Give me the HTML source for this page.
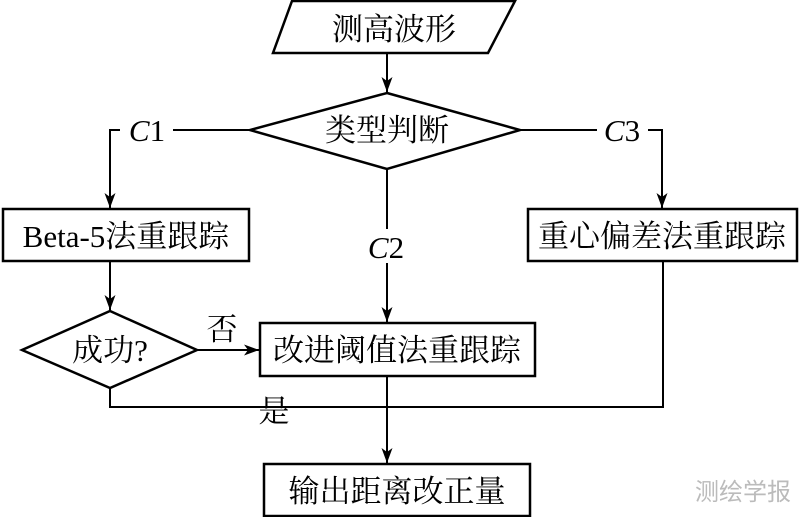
<!DOCTYPE html>
<html><head><meta charset="utf-8"><style>
html,body{margin:0;padding:0;background:#fff;}
svg{display:block}
text{font-family:"Liberation Serif","Noto Serif CJK SC","Noto Serif CJK JP",serif;font-size:31px;fill:#000;}
.i{font-style:italic}
</style></head><body>
<svg width="800" height="517" viewBox="0 0 800 517" xmlns="http://www.w3.org/2000/svg">
<defs><marker id="a" markerWidth="15" markerHeight="11" refX="15" refY="5.5" orient="auto" markerUnits="userSpaceOnUse">
<path d="M0,0 L15,5.5 L0,11 L4,5.5 Z" fill="#000"/></marker></defs>
<g stroke="#000" stroke-width="2.5" fill="none">
<polygon points="292,1 515,1 488,53 273,53" fill="#fff"/>
<polygon points="387,93 520,130 387,169 250,130"/>
<rect x="3" y="209" width="246" height="52"/>
<rect x="528" y="209" width="269" height="52"/>
<polygon points="110,311 197,350 110,388 22,350"/>
<rect x="260" y="323" width="275" height="53"/>
<rect x="264" y="464" width="266" height="52"/>
</g>
<g stroke="#000" stroke-width="2" fill="none">
<line x1="387" y1="53" x2="387" y2="92" marker-end="url(#a)"/>
<polyline points="250,130 173,130"/>
<polyline points="120,130 110,130 110,208" marker-end="url(#a)"/>
<polyline points="520,130 597,130"/>
<polyline points="648,130 662,130 662,208" marker-end="url(#a)"/>
<line x1="387" y1="169" x2="387" y2="229"/>
<line x1="387" y1="263" x2="387" y2="322" marker-end="url(#a)"/>
<line x1="110" y1="261" x2="110" y2="310" marker-end="url(#a)"/>
<line x1="197" y1="350" x2="259" y2="350" marker-end="url(#a)"/>
<polyline points="110,388 110,407 663,407 663,261"/>
<line x1="387" y1="376" x2="387" y2="463" marker-end="url(#a)"/>
</g>
<text x="394" y="40" text-anchor="middle">测高波形</text>
<text x="387" y="141" text-anchor="middle">类型判断</text>
<text x="147" y="141" text-anchor="middle"><tspan class="i">C</tspan>1</text>
<text x="622" y="141" text-anchor="middle"><tspan class="i">C</tspan>3</text>
<text x="386" y="258" text-anchor="middle"><tspan class="i">C</tspan>2</text>
<text x="126" y="247" text-anchor="middle">Beta-5法重跟踪</text>
<text x="662" y="247" text-anchor="middle">重心偏差法重跟踪</text>
<text x="110" y="361" text-anchor="middle">成功?</text>
<text x="222" y="340" text-anchor="middle">否</text>
<text x="274" y="422" text-anchor="middle">是</text>
<text x="397" y="361" text-anchor="middle">改进阈值法重跟踪</text>
<text x="397" y="502" text-anchor="middle">输出距离改正量</text>
<text x="743" y="500" text-anchor="middle" style="font-family:'Liberation Sans','Noto Sans CJK SC',sans-serif;font-size:24px;fill:#bbb">测绘学报</text>
</svg>
</body></html>
